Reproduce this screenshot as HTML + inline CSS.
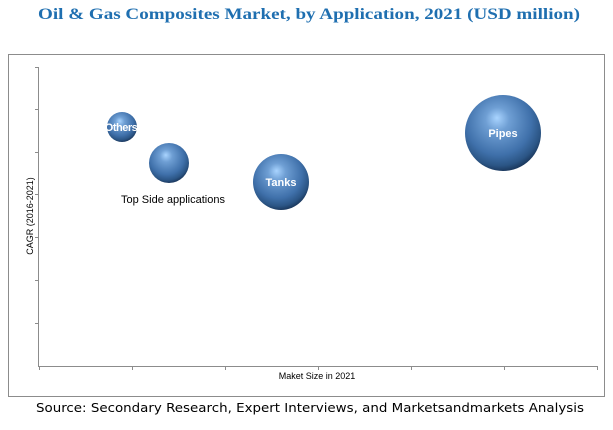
<!DOCTYPE html>
<html><head><meta charset="utf-8"><style>
body{margin:0;background:#fff;width:613px;height:425px;overflow:hidden}
</style></head><body>
<svg width="613" height="425" xmlns="http://www.w3.org/2000/svg">
<defs>
<radialGradient id="g" cx="0.45" cy="0.38" r="0.62" fx="0.42" fy="0.3">
<stop offset="0" stop-color="#a9d4ff"/>
<stop offset="0.25" stop-color="#6f9fd4"/>
<stop offset="0.7" stop-color="#3f70aa"/>
<stop offset="0.9" stop-color="#2b5585"/>
<stop offset="1" stop-color="#1c3a60"/>
</radialGradient>
</defs>
<text x="38" y="19" textLength="542" lengthAdjust="spacingAndGlyphs" font-family="'Liberation Serif',serif" font-weight="bold" font-size="16" fill="#1f6fb0">Oil &amp; Gas Composites Market, by Application, 2021 (USD million)</text>
<rect x="8.5" y="54.5" width="596" height="342" fill="none" stroke="#8c8c8c"/>
<g stroke="#8c8c8c" stroke-width="1">
<line x1="38.5" y1="67" x2="38.5" y2="366"/>
<line x1="38" y1="366.5" x2="597" y2="366.5"/>
<line x1="35" y1="67.5" x2="38" y2="67.5"/><line x1="35" y1="109.5" x2="38" y2="109.5"/>
<line x1="35" y1="152.5" x2="38" y2="152.5"/><line x1="35" y1="194.5" x2="38" y2="194.5"/>
<line x1="35" y1="237.5" x2="38" y2="237.5"/><line x1="35" y1="280.5" x2="38" y2="280.5"/>
<line x1="35" y1="323.5" x2="38" y2="323.5"/>
<line x1="39.5" y1="366" x2="39.5" y2="370"/><line x1="132.5" y1="366" x2="132.5" y2="370"/>
<line x1="225.5" y1="366" x2="225.5" y2="370"/><line x1="318.5" y1="366" x2="318.5" y2="370"/>
<line x1="411.5" y1="366" x2="411.5" y2="370"/><line x1="504.5" y1="366" x2="504.5" y2="370"/>
<line x1="597.5" y1="366" x2="597.5" y2="370"/>
</g>
<circle cx="122" cy="127" r="15" fill="url(#g)"/>
<circle cx="169" cy="163" r="20" fill="url(#g)"/>
<circle cx="281" cy="182" r="28" fill="url(#g)"/>
<circle cx="503" cy="133" r="38" fill="url(#g)"/>
<g font-family="'Liberation Sans',sans-serif" font-weight="bold" fill="#fff" text-anchor="middle" font-size="11">
<text x="121" y="131" letter-spacing="-0.5">Others</text>
<text x="281" y="186">Tanks</text>
<text x="503" y="137">Pipes</text>
</g>
<text x="173" y="203" text-anchor="middle" font-family="'Liberation Sans',sans-serif" font-size="11" fill="#000">Top Side applications</text>
<text x="317" y="379" text-anchor="middle" font-family="'Liberation Sans',sans-serif" font-size="9" fill="#000">Maket Size in 2021</text>
<text transform="translate(33,216) rotate(-90)" text-anchor="middle" font-family="'Liberation Sans',sans-serif" font-size="9" fill="#000">CAGR (2016-2021)</text>
<text x="36" y="412" textLength="548" lengthAdjust="spacingAndGlyphs" font-family="'DejaVu Sans','Liberation Sans',sans-serif" font-size="12.5" fill="#000">Source: Secondary Research, Expert Interviews, and Marketsandmarkets Analysis</text>
</svg>
</body></html>
